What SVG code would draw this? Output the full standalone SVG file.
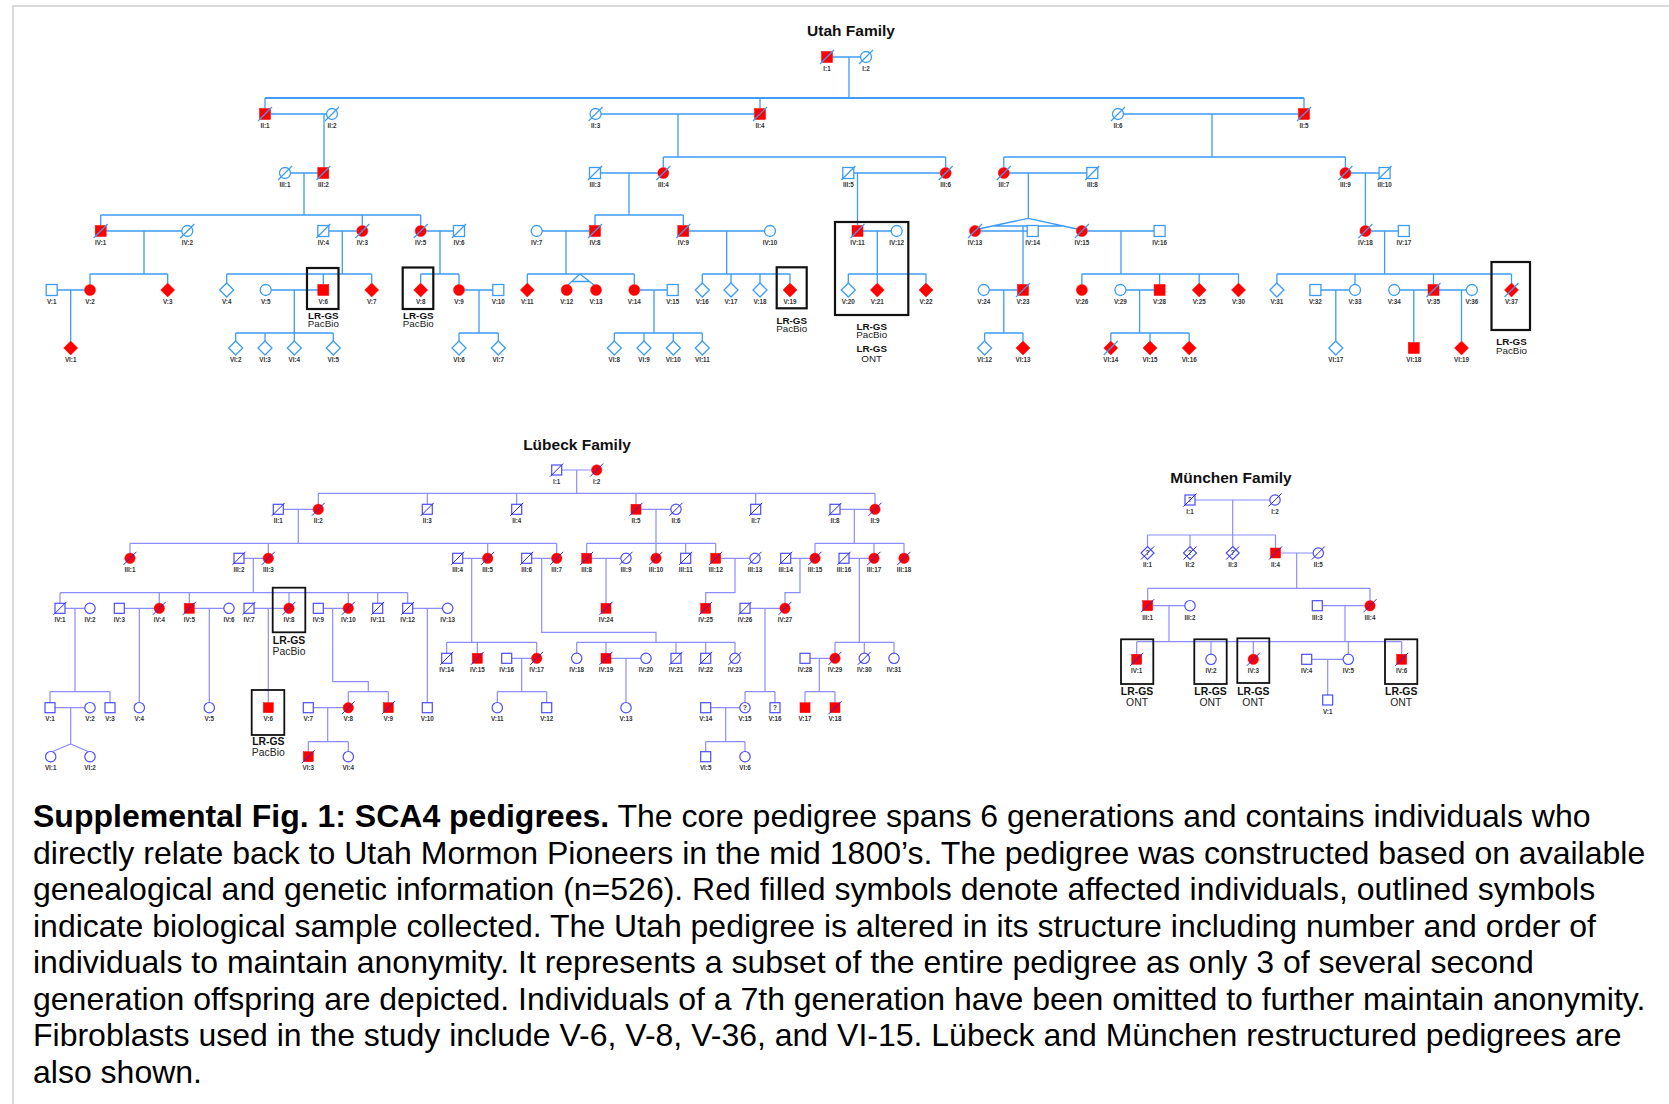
<svg xmlns="http://www.w3.org/2000/svg" xmlns:xlink="http://www.w3.org/1999/xlink" width="1669" height="1104" viewBox="0 0 1669 1104">
<style>
.uc{stroke:#3d9cf5;stroke-width:1.3;fill:none}
.lc{stroke:#8c8cff;stroke-width:1.2;fill:none}
.uo{fill:#fff;stroke:#3d9cf5;stroke-width:1.3}
.ua{fill:#f00;stroke:#f00;stroke-width:0.5}
.usl{stroke:#3d9cf5;stroke-width:1.2}
.lo{fill:#fff;stroke:#4c4cff;stroke-width:1.2}
.la{fill:#f00;stroke:#f00;stroke-width:0.5}
.lsl{stroke:#2a2ae0;stroke-width:1}
.lb{font-family:"Liberation Sans",Arial,sans-serif;font-weight:bold;font-size:6.3px;fill:#333;text-anchor:middle}
.q{font-family:"Liberation Sans",Arial,sans-serif;font-weight:bold;font-size:6.5px;fill:#333;text-anchor:middle}
.ttl{font-family:"Liberation Sans",Arial,sans-serif;font-weight:bold;font-size:15.5px;fill:#111;text-anchor:middle}
.bx{fill:none;stroke:#111;stroke-width:2.2}
.bx2{fill:none;stroke:#111;stroke-width:1.8}
.t1{font-family:"Liberation Sans",Arial,sans-serif;font-weight:bold;font-size:9.8px;fill:#111;text-anchor:middle}
.t2{font-family:"Liberation Sans",Arial,sans-serif;font-size:9.8px;fill:#222;text-anchor:middle}
.t1b{font-family:"Liberation Sans",Arial,sans-serif;font-weight:bold;font-size:10.4px;fill:#111;text-anchor:middle}
.t2b{font-family:"Liberation Sans",Arial,sans-serif;font-size:10.4px;fill:#222;text-anchor:middle}
.cap{font-family:"Liberation Sans",Arial,sans-serif;font-size:32px;fill:#000}
</style>
<defs>
<rect id="sq" x="-5.5" y="-5.5" width="11" height="11"/>
<circle id="ci" r="5.5"/>
<polygon id="di" points="0,-7 7,0 0,7 -7,0"/>
<line id="sl" x1="-7" y1="7" x2="7" y2="-7"/>
<rect id="sqs" x="-5" y="-5" width="10" height="10"/>
<circle id="cis" r="5.2"/>
<polygon id="dis" points="0,-6.5 6.5,0 0,6.5 -6.5,0"/>
<line id="sls" x1="-6.5" y1="6.5" x2="6.5" y2="-6.5"/>
</defs>
<rect width="1669" height="1104" fill="#fff"/>
<path d="M13,1104 V6 H1669" stroke="#d0d0d0" stroke-width="1.5" fill="none"/>

<g id="titles">
<text class="ttl" x="851" y="36">Utah Family</text>
<text class="ttl" x="577" y="450">Lübeck Family</text>
<text class="ttl" x="1231" y="483">München Family</text>
</g>

<g id="connectors">
<g id="utah-connectors">
<path class="uc" d="M832.5,57 H860.5 M849,57 V98"/>
<path class="uc" style="stroke-width:2.2" d="M265,98 H1304"/>
<path class="uc" d="M265,98 V108.5 M760,98 V108.5 M1304,98 V108.5"/>
<path class="uc" d="M270.5,114 H326.5 M324,114 V167.5"/>
<path class="uc" d="M601,114 H754.5 M678,114 V157 M663.3,157 H945.7 M663.3,157 V167.5 M945.7,157 V167.5"/>
<path class="uc" d="M1123.5,114 H1298.5 M1212,114 V157 M1003.8,157 H1345.4 M1003.8,157 V167.5 M1345.4,157 V167.5"/>
<path class="uc" d="M290.5,173 H317.8 M304,173 V215 M100.7,215 H420.7 M100.7,215 V225.5 M362.3,215 V225.5 M420.7,215 V225.5"/>
<path class="uc" d="M600.5,173 H657.8 M629,173 V215 M595,215 H683.3 M595,215 V225.5 M683.3,215 V225.5"/>
<path class="uc" d="M853.8,173 H940.2 M857.5,173 V225.5"/>
<path class="uc" d="M1009.3,173 H1086.8 M1028.3,173 V218.3 M978.5,229 L1028.3,218.3 L1077,229 M994,226 H1063"/>
<path class="uc" d="M1350.9,173 H1379.1 M1365.4,173 V225.5"/>
<path class="uc" d="M106.2,231 H181.8 M144,231 V274 M90,274 H167.7 M90,274 V284.5 M167.7,274 V283"/>
<path class="uc" d="M57.2,290 H84.5 M70.7,290 V341"/>
<path class="uc" d="M328.8,231 H356.8 M342.3,231 V274 M226.7,274 H371.7 M226.7,274 V283 M323.3,274 V284.5 M371.7,274 V283"/>
<path class="uc" d="M271.2,290 H317.8 M294.3,290 V333 M235.7,333 H333.3 M235.7,333 V341 M265,333 V341 M294.3,333 V341 M333.3,333 V341"/>
<path class="uc" d="M426.2,231 H453.5 M440,231 V274 M420.7,274 H459 M420.7,274 V283 M459,274 V284.5"/>
<path class="uc" d="M464.5,290 H492.8 M479,290 V333 M459,333 H498.3 M459,333 V341 M498.3,333 V341"/>
<path class="uc" d="M542.2,231 H589.5 M566,231 V274 M527.3,274 H634.3 M527.3,274 V283 M634.3,274 V284.5 M580,274 L568,285 M580,274 L594,285 M571.8,281.5 H589.5"/>
<path class="uc" d="M639.8,290 H667.2 M654,290 V333 M614.3,333 H702.3 M614.3,333 V341 M644,333 V341 M673.3,333 V341 M702.3,333 V341"/>
<path class="uc" d="M688.8,231 H764.5 M726.7,231 V274 M702.3,274 H790 M702.3,274 V283 M731,274 V283 M760,274 V283 M790,274 V283"/>
<path class="uc" d="M863,231 H891.2 M877.3,231 V274 M848.3,274 H926 M848.3,274 V283 M877.3,274 V283 M926,274 V283"/>
<path class="uc" d="M980.5,231 H1027.2 M1023,226 V284.5"/>
<path class="uc" d="M989.3,290 H1017.5 M1003.8,290 V333 M984.6,333 H1023 M984.6,333 V341 M1023,333 V341"/>
<path class="uc" d="M1087.4,231 H1154.1 M1121,231 V274 M1081.9,274 H1238.5 M1081.9,274 V284.5 M1159.6,274 V284.5 M1199.2,274 V283 M1238.5,274 V283"/>
<path class="uc" d="M1125.9,290 H1154.1 M1139.6,290 V333 M1110.8,333 H1189.2 M1110.8,333 V341 M1150,333 V341 M1189.2,333 V341"/>
<path class="uc" d="M1370.9,231 H1398.3 M1384.6,231 V274 M1276.9,274 H1511.5 M1276.9,274 V283 M1355,274 V284.5 M1433.5,274 V284.5 M1511.5,274 V283"/>
<path class="uc" d="M1320.9,290 H1349.5 M1335.8,290 V341"/>
<path class="uc" d="M1399.7,290 H1428 M1413.8,290 V342.5"/>
<path class="uc" d="M1439,290 H1466.4 M1461.5,290 V341"/>
</g>
<g id="lubeck-connectors">
<path class="lc" d="M561.7,470 H591.5 M576.7,470 V493.3 M318.3,493.3 H875"/>
<path class="lc" d="M318.3,493.3 V504.1 M427.3,493.3 V504.3 M516.7,493.3 V504.3 M636,493.3 V504.3 M755.7,493.3 V504.3 M875,493.3 V504.1"/>
<path class="lc" d="M283.3,509.3 H313.1 M298.3,509.3 V543.3 M130,543.3 H556.7 M130,543.3 V553.1 M268.3,543.3 V553.1 M487.7,543.3 V553.1 M556.7,543.3 V553.1"/>
<path class="lc" d="M641,509.3 H670.8 M656,509.3 V553.1 M586.7,543.3 H715.7 M586.7,543.3 V553.3 M685.7,543.3 V553.3 M715.7,543.3 V553.3"/>
<path class="lc" d="M840,509.3 H869.8 M854.3,509.3 V543.3 M815,543.3 H904 M815,543.3 V553.1 M874,543.3 V553.1 M904,543.3 V553.1"/>
<path class="lc" d="M244,558.3 H263.1 M253.3,558.3 V592.7 M60,592.7 H407.7 M60,592.7 V603.3 M159.3,592.7 V603.1 M189.3,592.7 V603.3 M289,592.7 V603.1 M348.3,592.7 V603.1 M377.7,592.7 V603.3 M407.7,592.7 V603.3"/>
<path class="lc" d="M462.7,558.3 H482.5 M471.7,558.3 V642.3 M446.7,642.3 H536.7 M446.7,642.3 V653.3 M477.3,642.3 V653.3 M536.7,642.3 V653.1"/>
<path class="lc" d="M531.7,558.3 H551.5 M541.7,558.3 V632.3 H656 V642.3 M576.7,642.3 H735 M576.7,642.3 V653.1 M606,642.3 V653.3 M676,642.3 V653.3 M705.7,642.3 V653.3 M735,642.3 V653.1"/>
<path class="lc" d="M591.7,558.3 H620.8 M606,558.3 V603.3"/>
<path class="lc" d="M720.7,558.3 H749.8 M735,558.3 V592.7 H705.7 V603.3"/>
<path class="lc" d="M790.7,558.3 H809.8 M800,558.3 V592.7 H785 V603.1"/>
<path class="lc" d="M849,558.3 H868.8 M859.3,558.3 V642.3 M835,642.3 H894 M835,642.3 V653.1 M864.3,642.3 V653.1 M894,642.3 V653.1"/>
<path class="lc" d="M65,608.3 H84.8 M75,608.3 V691.7 M50,691.7 H110 M50,691.7 V702.7 M110,691.7 V702.7"/>
<path class="lc" d="M55,707.7 H84.8 M70.7,707.7 V744 M52,751.8 L70.7,744 L88.5,751.8"/>
<path class="lc" d="M124.3,608.3 H154.1 M139.3,608.3 V702.5"/>
<path class="lc" d="M194.3,608.3 H223.8 M209.3,608.3 V702.5"/>
<path class="lc" d="M254,608.3 H283.8 M268.3,608.3 V702.7"/>
<path class="lc" d="M323.3,608.3 H343.1 M332.7,608.3 V681.7 H368.3 V691.7 M348.3,691.7 H388.3 M348.3,691.7 V702.5 M388.3,691.7 V702.7"/>
<path class="lc" d="M313.3,707.7 H343.1 M327.7,707.7 V741.7 M308.3,741.7 H348.3 M308.3,741.7 V751.7 M348.3,741.7 V751.5"/>
<path class="lc" d="M412.7,608.3 H442.5 M427.3,608.3 V702.7"/>
<path class="lc" d="M511.7,658.3 H531.5 M521.7,658.3 V691.7 M497.3,691.7 H546.7 M497.3,691.7 V702.5 M546.7,691.7 V702.7"/>
<path class="lc" d="M611,658.3 H640.8 M626,658.3 V702.5"/>
<path class="lc" d="M750,608.3 H779.8 M765,608.3 V691.7 M745,691.7 H775 M745,691.7 V702.5 M775,691.7 V702.7"/>
<path class="lc" d="M810,658.3 H829.8 M819.3,658.3 V691.7 M805,691.7 H835 M805,691.7 V702.7 M835,691.7 V702.7"/>
<path class="lc" d="M710.7,707.7 H739.8 M725.7,707.7 V741.7 M705.7,741.7 H745 M705.7,741.7 V751.7 M745,741.7 V751.5"/>
</g>
<g id="munchen-connectors">
<path class="lc" d="M1195,500 H1269.8 M1232.7,500 V535 M1147.5,535 H1275.5 M1147.5,535 V546.5 M1190,535 V546.5 M1232.7,535 V546.5 M1275.5,535 V548"/>
<path class="lc" d="M1280.5,553 H1313.1 M1296.7,553 V588.3 M1147.7,588.3 H1370 M1147.7,588.3 V600.7 M1370,588.3 V600.5"/>
<path class="lc" d="M1152.7,605.7 H1184.8 M1169,605.7 V641.7 M1322.3,605.7 H1364.8 M1345,605.7 V641.7"/>
<path class="lc" d="M1136.7,641.7 H1401.7 M1136.7,641.7 V654.3 M1211,641.7 V654.1 M1253.3,641.7 V654.1 M1348.3,641.7 V654.1 M1401.7,641.7 V654.3"/>
<path class="lc" d="M1311.7,659.3 H1343.1 M1327.7,659.3 V695"/>
</g>
</g>

<g id="utah-nodes">
<g id="u-I-1" transform="translate(827,57)"><use href="#sq" class="ua"/><use href="#sl" class="usl"/><text class="lb" y="13.5">I:1</text></g>
<g id="u-I-2" transform="translate(866,57)"><use href="#ci" class="uo"/><use href="#sl" class="usl"/><text class="lb" y="13.5">I:2</text></g>
<g id="u-II-1" transform="translate(265,114)"><use href="#sq" class="ua"/><use href="#sl" class="usl"/><text class="lb" y="13.5">II:1</text></g>
<g id="u-II-2" transform="translate(332,114)"><use href="#ci" class="uo"/><use href="#sl" class="usl"/><text class="lb" y="13.5">II:2</text></g>
<g id="u-II-3" transform="translate(595.6,114)"><use href="#ci" class="uo"/><use href="#sl" class="usl"/><text class="lb" y="13.5">II:3</text></g>
<g id="u-II-4" transform="translate(760,114)"><use href="#sq" class="ua"/><use href="#sl" class="usl"/><text class="lb" y="13.5">II:4</text></g>
<g id="u-II-6" transform="translate(1118,114)"><use href="#ci" class="uo"/><use href="#sl" class="usl"/><text class="lb" y="13.5">II:6</text></g>
<g id="u-II-5" transform="translate(1304,114)"><use href="#sq" class="ua"/><use href="#sl" class="usl"/><text class="lb" y="13.5">II:5</text></g>

<g id="u-III-1" transform="translate(285,173)"><use href="#ci" class="uo"/><use href="#sl" class="usl"/><text class="lb" y="13.5">III:1</text></g>
<g id="u-III-2" transform="translate(323.3,173)"><use href="#sq" class="ua"/><use href="#sl" class="usl"/><text class="lb" y="13.5">III:2</text></g>
<g id="u-III-3" transform="translate(595,173)"><use href="#sq" class="uo"/><use href="#sl" class="usl"/><text class="lb" y="13.5">III:3</text></g>
<g id="u-III-4" transform="translate(663.3,173)"><use href="#ci" class="ua"/><use href="#sl" class="usl"/><text class="lb" y="13.5">III:4</text></g>
<g id="u-III-5" transform="translate(848.3,173)"><use href="#sq" class="uo"/><use href="#sl" class="usl"/><text class="lb" y="13.5">III:5</text></g>
<g id="u-III-6" transform="translate(945.7,173)"><use href="#ci" class="ua"/><use href="#sl" class="usl"/><text class="lb" y="13.5">III:6</text></g>
<g id="u-III-7" transform="translate(1003.8,173)"><use href="#ci" class="ua"/><use href="#sl" class="usl"/><text class="lb" y="13.5">III:7</text></g>
<g id="u-III-8" transform="translate(1092.3,173)"><use href="#sq" class="uo"/><use href="#sl" class="usl"/><text class="lb" y="13.5">III:8</text></g>
<g id="u-III-9" transform="translate(1345.4,173)"><use href="#ci" class="ua"/><use href="#sl" class="usl"/><text class="lb" y="13.5">III:9</text></g>
<g id="u-III-10" transform="translate(1384.6,173)"><use href="#sq" class="uo"/><use href="#sl" class="usl"/><text class="lb" y="13.5">III:10</text></g>

<g id="u-IV-1" transform="translate(100.7,231)"><use href="#sq" class="ua"/><use href="#sl" class="usl"/><text class="lb" y="13.5">IV:1</text></g>
<g id="u-IV-2" transform="translate(187.3,231)"><use href="#ci" class="uo"/><use href="#sl" class="usl"/><text class="lb" y="13.5">IV:2</text></g>
<g id="u-IV-4" transform="translate(323.3,231)"><use href="#sq" class="uo"/><use href="#sl" class="usl"/><text class="lb" y="13.5">IV:4</text></g>
<g id="u-IV-3" transform="translate(362.3,231)"><use href="#ci" class="ua"/><use href="#sl" class="usl"/><text class="lb" y="13.5">IV:3</text></g>
<g id="u-IV-5" transform="translate(420.7,231)"><use href="#ci" class="ua"/><use href="#sl" class="usl"/><text class="lb" y="13.5">IV:5</text></g>
<g id="u-IV-6" transform="translate(459,231)"><use href="#sq" class="uo"/><use href="#sl" class="usl"/><text class="lb" y="13.5">IV:6</text></g>
<g id="u-IV-7" transform="translate(536.7,231)"><use href="#ci" class="uo"/><text class="lb" y="13.5">IV:7</text></g>
<g id="u-IV-8" transform="translate(595,231)"><use href="#sq" class="ua"/><use href="#sl" class="usl"/><text class="lb" y="13.5">IV:8</text></g>
<g id="u-IV-9" transform="translate(683.3,231)"><use href="#sq" class="ua"/><use href="#sl" class="usl"/><text class="lb" y="13.5">IV:9</text></g>
<g id="u-IV-10" transform="translate(770,231)"><use href="#ci" class="uo"/><text class="lb" y="13.5">IV:10</text></g>
<g id="u-IV-11" transform="translate(857.5,231)"><use href="#sq" class="ua"/><use href="#sl" class="usl"/><text class="lb" y="13.5">IV:11</text></g>
<g id="u-IV-12" transform="translate(896.7,231)"><use href="#ci" class="uo"/><text class="lb" y="13.5">IV:12</text></g>
<g id="u-IV-13" transform="translate(975,231)"><use href="#ci" class="ua"/><use href="#sl" class="usl"/><text class="lb" y="13.5">IV:13</text></g>
<g id="u-IV-14" transform="translate(1032.7,231)"><use href="#sq" class="uo"/><text class="lb" y="13.5">IV:14</text></g>
<g id="u-IV-15" transform="translate(1081.9,231)"><use href="#ci" class="ua"/><use href="#sl" class="usl"/><text class="lb" y="13.5">IV:15</text></g>
<g id="u-IV-16" transform="translate(1159.6,231)"><use href="#sq" class="uo"/><text class="lb" y="13.5">IV:16</text></g>
<g id="u-IV-18" transform="translate(1365.4,231)"><use href="#ci" class="ua"/><use href="#sl" class="usl"/><text class="lb" y="13.5">IV:18</text></g>
<g id="u-IV-17" transform="translate(1403.8,231)"><use href="#sq" class="uo"/><text class="lb" y="13.5">IV:17</text></g>

<g id="u-V-1" transform="translate(51.7,290)"><use href="#sq" class="uo"/><text class="lb" y="13.5">V:1</text></g>
<g id="u-V-2" transform="translate(90,290)"><use href="#ci" class="ua"/><text class="lb" y="13.5">V:2</text></g>
<g id="u-V-3" transform="translate(167.7,290)"><use href="#di" class="ua"/><text class="lb" y="13.5">V:3</text></g>
<g id="u-V-4" transform="translate(226.7,290)"><use href="#di" class="uo"/><text class="lb" y="13.5">V:4</text></g>
<g id="u-V-5" transform="translate(265.7,290)"><use href="#ci" class="uo"/><text class="lb" y="13.5">V:5</text></g>
<g id="u-V-6" transform="translate(323.3,290)"><use href="#sq" class="ua"/><text class="lb" y="13.5">V:6</text><rect class="bx" x="-16.3" y="-22" width="31.5" height="41"/><text class="t1" y="29">LR-GS</text><text class="t2" y="36.8">PacBio</text></g>
<g id="u-V-7" transform="translate(371.7,290)"><use href="#di" class="ua"/><text class="lb" y="13.5">V:7</text></g>
<g id="u-V-8" transform="translate(420.7,290)"><use href="#di" class="ua"/><text class="lb" y="13.5">V:8</text><rect class="bx" x="-18" y="-22.5" width="30.6" height="41.5"/><text class="t1" x="-2.4" y="29">LR-GS</text><text class="t2" x="-2.4" y="36.8">PacBio</text></g>
<g id="u-V-9" transform="translate(459,290)"><use href="#ci" class="ua"/><text class="lb" y="13.5">V:9</text></g>
<g id="u-V-10" transform="translate(498.3,290)"><use href="#sq" class="uo"/><text class="lb" y="13.5">V:10</text></g>
<g id="u-V-11" transform="translate(527.3,290)"><use href="#di" class="ua"/><text class="lb" y="13.5">V:11</text></g>
<g id="u-V-12" transform="translate(566.7,290)"><use href="#ci" class="ua"/><text class="lb" y="13.5">V:12</text></g>
<g id="u-V-13" transform="translate(596,290)"><use href="#ci" class="ua"/><text class="lb" y="13.5">V:13</text></g>
<g id="u-V-14" transform="translate(634.3,290)"><use href="#ci" class="ua"/><text class="lb" y="13.5">V:14</text></g>
<g id="u-V-15" transform="translate(672.7,290)"><use href="#sq" class="uo"/><text class="lb" y="13.5">V:15</text></g>
<g id="u-V-16" transform="translate(702.3,290)"><use href="#di" class="uo"/><text class="lb" y="13.5">V:16</text></g>
<g id="u-V-17" transform="translate(731,290)"><use href="#di" class="uo"/><text class="lb" y="13.5">V:17</text></g>
<g id="u-V-18" transform="translate(760,290)"><use href="#di" class="uo"/><text class="lb" y="13.5">V:18</text></g>
<g id="u-V-19" transform="translate(790,290)"><use href="#di" class="ua"/><text class="lb" y="13.5">V:19</text><rect class="bx" x="-13.3" y="-22.7" width="30" height="41"/><text class="t1" x="1.7" y="34">LR-GS</text><text class="t2" x="1.7" y="41.8">PacBio</text></g>
<g id="u-V-20" transform="translate(848.3,290)"><use href="#di" class="uo"/><text class="lb" y="13.5">V:20</text></g>
<g id="u-V-21" transform="translate(877.3,290)"><use href="#di" class="ua"/><text class="lb" y="13.5">V:21</text></g>
<g id="u-V-22" transform="translate(926,290)"><use href="#di" class="ua"/><text class="lb" y="13.5">V:22</text></g>
<g id="u-V-24" transform="translate(983.8,290)"><use href="#ci" class="uo"/><text class="lb" y="13.5">V:24</text></g>
<g id="u-V-23" transform="translate(1023,290)"><use href="#sq" class="ua"/><use href="#sl" class="usl"/><text class="lb" y="13.5">V:23</text></g>
<g id="u-V-26" transform="translate(1081.9,290)"><use href="#ci" class="ua"/><text class="lb" y="13.5">V:26</text></g>
<g id="u-V-29" transform="translate(1120.4,290)"><use href="#ci" class="uo"/><text class="lb" y="13.5">V:29</text></g>
<g id="u-V-28" transform="translate(1159.6,290)"><use href="#sq" class="ua"/><text class="lb" y="13.5">V:28</text></g>
<g id="u-V-25" transform="translate(1199.2,290)"><use href="#di" class="ua"/><text class="lb" y="13.5">V:25</text></g>
<g id="u-V-30" transform="translate(1238.5,290)"><use href="#di" class="ua"/><text class="lb" y="13.5">V:30</text></g>
<g id="u-V-31" transform="translate(1276.9,290)"><use href="#di" class="uo"/><text class="lb" y="13.5">V:31</text></g>
<g id="u-V-32" transform="translate(1315.4,290)"><use href="#sq" class="uo"/><text class="lb" y="13.5">V:32</text></g>
<g id="u-V-33" transform="translate(1355,290)"><use href="#ci" class="uo"/><text class="lb" y="13.5">V:33</text></g>
<g id="u-V-34" transform="translate(1394.2,290)"><use href="#ci" class="uo"/><text class="lb" y="13.5">V:34</text></g>
<g id="u-V-35" transform="translate(1433.5,290)"><use href="#sq" class="ua"/><use href="#sl" class="usl"/><text class="lb" y="13.5">V:35</text></g>
<g id="u-V-36" transform="translate(1471.9,290)"><use href="#ci" class="uo"/><text class="lb" y="13.5">V:36</text></g>
<g id="u-V-37" transform="translate(1511.5,290)"><use href="#di" class="ua"/><use href="#sl" class="usl"/><text class="lb" y="13.5">V:37</text><rect class="bx" x="-20" y="-28" width="38.5" height="68"/><text class="t1" y="55">LR-GS</text><text class="t2" y="63.5">PacBio</text></g>

<g id="u-VI-1" transform="translate(70.7,348)"><use href="#di" class="ua"/><text class="lb" y="13.5">VI:1</text></g>
<g id="u-VI-2" transform="translate(235.7,348)"><use href="#di" class="uo"/><text class="lb" y="13.5">VI:2</text></g>
<g id="u-VI-3" transform="translate(265,348)"><use href="#di" class="uo"/><text class="lb" y="13.5">VI:3</text></g>
<g id="u-VI-4" transform="translate(294.3,348)"><use href="#di" class="uo"/><text class="lb" y="13.5">VI:4</text></g>
<g id="u-VI-5" transform="translate(333.3,348)"><use href="#di" class="uo"/><text class="lb" y="13.5">VI:5</text></g>
<g id="u-VI-6" transform="translate(459,348)"><use href="#di" class="uo"/><text class="lb" y="13.5">VI:6</text></g>
<g id="u-VI-7" transform="translate(498.3,348)"><use href="#di" class="uo"/><text class="lb" y="13.5">VI:7</text></g>
<g id="u-VI-8" transform="translate(614.3,348)"><use href="#di" class="uo"/><text class="lb" y="13.5">VI:8</text></g>
<g id="u-VI-9" transform="translate(644,348)"><use href="#di" class="uo"/><text class="lb" y="13.5">VI:9</text></g>
<g id="u-VI-10" transform="translate(673.3,348)"><use href="#di" class="uo"/><text class="lb" y="13.5">VI:10</text></g>
<g id="u-VI-11" transform="translate(702.3,348)"><use href="#di" class="uo"/><text class="lb" y="13.5">VI:11</text></g>
<g id="u-VI-12" transform="translate(984.6,348)"><use href="#di" class="uo"/><text class="lb" y="13.5">VI:12</text></g>
<g id="u-VI-13" transform="translate(1023,348)"><use href="#di" class="ua"/><text class="lb" y="13.5">VI:13</text></g>
<g id="u-VI-14" transform="translate(1110.8,348)"><use href="#di" class="ua"/><use href="#sl" class="usl"/><text class="lb" y="13.5">VI:14</text></g>
<g id="u-VI-15" transform="translate(1150,348)"><use href="#di" class="ua"/><text class="lb" y="13.5">VI:15</text></g>
<g id="u-VI-16" transform="translate(1189.2,348)"><use href="#di" class="ua"/><text class="lb" y="13.5">VI:16</text></g>
<g id="u-VI-17" transform="translate(1335.8,348)"><use href="#di" class="uo"/><text class="lb" y="13.5">VI:17</text></g>
<g id="u-VI-18" transform="translate(1413.8,348)"><use href="#sq" class="ua"/><text class="lb" y="13.5">VI:18</text></g>
<g id="u-VI-19" transform="translate(1461.5,348)"><use href="#di" class="ua"/><text class="lb" y="13.5">VI:19</text></g>

<g id="u-IV-11-box"><rect class="bx" x="835" y="222" width="73.3" height="93"/><text class="t1" x="871.7" y="330">LR-GS</text><text class="t2" x="871.7" y="337.8">PacBio</text><text class="t1" x="871.7" y="351.7">LR-GS</text><text class="t2" x="871.7" y="361.7">ONT</text></g>
</g>

<g id="lubeck-nodes">
<g id="l-I-1" transform="translate(556.7,470)"><use href="#sqs" class="lo"/><use href="#sls" class="lsl"/><text class="lb" y="13.5">I:1</text></g>
<g id="l-I-2" transform="translate(596.7,470)"><use href="#cis" class="la"/><use href="#sls" class="lsl"/><text class="lb" y="13.5">I:2</text></g>
<g id="l-II-1" transform="translate(278.3,509.3)"><use href="#sqs" class="lo"/><use href="#sls" class="lsl"/><text class="lb" y="13.5">II:1</text></g>
<g id="l-II-2" transform="translate(318.3,509.3)"><use href="#cis" class="la"/><use href="#sls" class="lsl"/><text class="lb" y="13.5">II:2</text></g>
<g id="l-II-3" transform="translate(427.3,509.3)"><use href="#sqs" class="lo"/><use href="#sls" class="lsl"/><text class="lb" y="13.5">II:3</text></g>
<g id="l-II-4" transform="translate(516.7,509.3)"><use href="#sqs" class="lo"/><use href="#sls" class="lsl"/><text class="lb" y="13.5">II:4</text></g>
<g id="l-II-5" transform="translate(636,509.3)"><use href="#sqs" class="la"/><use href="#sls" class="lsl"/><text class="lb" y="13.5">II:5</text></g>
<g id="l-II-6" transform="translate(676,509.3)"><use href="#cis" class="lo"/><use href="#sls" class="lsl"/><text class="lb" y="13.5">II:6</text></g>
<g id="l-II-7" transform="translate(755.7,509.3)"><use href="#sqs" class="lo"/><use href="#sls" class="lsl"/><text class="lb" y="13.5">II:7</text></g>
<g id="l-II-8" transform="translate(835,509.3)"><use href="#sqs" class="lo"/><use href="#sls" class="lsl"/><text class="lb" y="13.5">II:8</text></g>
<g id="l-II-9" transform="translate(875,509.3)"><use href="#cis" class="la"/><use href="#sls" class="lsl"/><text class="lb" y="13.5">II:9</text></g>

<g id="l-III-1" transform="translate(130,558.3)"><use href="#cis" class="la"/><use href="#sls" class="lsl"/><text class="lb" y="13.5">III:1</text></g>
<g id="l-III-2" transform="translate(239,558.3)"><use href="#sqs" class="lo"/><use href="#sls" class="lsl"/><text class="lb" y="13.5">III:2</text></g>
<g id="l-III-3" transform="translate(268.3,558.3)"><use href="#cis" class="la"/><use href="#sls" class="lsl"/><text class="lb" y="13.5">III:3</text></g>
<g id="l-III-4" transform="translate(457.7,558.3)"><use href="#sqs" class="lo"/><use href="#sls" class="lsl"/><text class="lb" y="13.5">III:4</text></g>
<g id="l-III-5" transform="translate(487.7,558.3)"><use href="#cis" class="la"/><use href="#sls" class="lsl"/><text class="lb" y="13.5">III:5</text></g>
<g id="l-III-6" transform="translate(526.7,558.3)"><use href="#sqs" class="lo"/><use href="#sls" class="lsl"/><text class="lb" y="13.5">III:6</text></g>
<g id="l-III-7" transform="translate(556.7,558.3)"><use href="#cis" class="la"/><use href="#sls" class="lsl"/><text class="lb" y="13.5">III:7</text></g>
<g id="l-III-8" transform="translate(586.7,558.3)"><use href="#sqs" class="la"/><use href="#sls" class="lsl"/><text class="lb" y="13.5">III:8</text></g>
<g id="l-III-9" transform="translate(626,558.3)"><use href="#cis" class="lo"/><use href="#sls" class="lsl"/><text class="lb" y="13.5">III:9</text></g>
<g id="l-III-10" transform="translate(656,558.3)"><use href="#cis" class="la"/><use href="#sls" class="lsl"/><text class="lb" y="13.5">III:10</text></g>
<g id="l-III-11" transform="translate(685.7,558.3)"><use href="#sqs" class="lo"/><use href="#sls" class="lsl"/><text class="lb" y="13.5">III:11</text></g>
<g id="l-III-12" transform="translate(715.7,558.3)"><use href="#sqs" class="la"/><use href="#sls" class="lsl"/><text class="lb" y="13.5">III:12</text></g>
<g id="l-III-13" transform="translate(755,558.3)"><use href="#cis" class="lo"/><use href="#sls" class="lsl"/><text class="lb" y="13.5">III:13</text></g>
<g id="l-III-14" transform="translate(785.7,558.3)"><use href="#sqs" class="lo"/><use href="#sls" class="lsl"/><text class="lb" y="13.5">III:14</text></g>
<g id="l-III-15" transform="translate(815,558.3)"><use href="#cis" class="la"/><use href="#sls" class="lsl"/><text class="lb" y="13.5">III:15</text></g>
<g id="l-III-16" transform="translate(844,558.3)"><use href="#sqs" class="lo"/><use href="#sls" class="lsl"/><text class="lb" y="13.5">III:16</text></g>
<g id="l-III-17" transform="translate(874,558.3)"><use href="#cis" class="la"/><use href="#sls" class="lsl"/><text class="lb" y="13.5">III:17</text></g>
<g id="l-III-18" transform="translate(904,558.3)"><use href="#cis" class="la"/><use href="#sls" class="lsl"/><text class="lb" y="13.5">III:18</text></g>

<g id="l-IV-1" transform="translate(60,608.3)"><use href="#sqs" class="lo"/><use href="#sls" class="lsl"/><text class="lb" y="13.5">IV:1</text></g>
<g id="l-IV-2" transform="translate(90,608.3)"><use href="#cis" class="lo"/><text class="lb" y="13.5">IV:2</text></g>
<g id="l-IV-3" transform="translate(119.3,608.3)"><use href="#sqs" class="lo"/><text class="lb" y="13.5">IV:3</text></g>
<g id="l-IV-4" transform="translate(159.3,608.3)"><use href="#cis" class="la"/><use href="#sls" class="lsl"/><text class="lb" y="13.5">IV:4</text></g>
<g id="l-IV-5" transform="translate(189.3,608.3)"><use href="#sqs" class="la"/><use href="#sls" class="lsl"/><text class="lb" y="13.5">IV:5</text></g>
<g id="l-IV-6" transform="translate(229,608.3)"><use href="#cis" class="lo"/><text class="lb" y="13.5">IV:6</text></g>
<g id="l-IV-7" transform="translate(249,608.3)"><use href="#sqs" class="lo"/><use href="#sls" class="lsl"/><text class="lb" y="13.5">IV:7</text></g>
<g id="l-IV-8" transform="translate(289,608.3)"><use href="#cis" class="la"/><use href="#sls" class="lsl"/><text class="lb" y="13.5">IV:8</text><rect class="bx2" x="-16.3" y="-20.6" width="32.6" height="44.6"/><text class="t1b" y="36.2">LR-GS</text><text class="t2b" y="47.2">PacBio</text></g>
<g id="l-IV-9" transform="translate(318.3,608.3)"><use href="#sqs" class="lo"/><text class="lb" y="13.5">IV:9</text></g>
<g id="l-IV-10" transform="translate(348.3,608.3)"><use href="#cis" class="la"/><use href="#sls" class="lsl"/><text class="lb" y="13.5">IV:10</text></g>
<g id="l-IV-11" transform="translate(377.7,608.3)"><use href="#sqs" class="lo"/><use href="#sls" class="lsl"/><text class="lb" y="13.5">IV:11</text></g>
<g id="l-IV-12" transform="translate(407.7,608.3)"><use href="#sqs" class="lo"/><use href="#sls" class="lsl"/><text class="lb" y="13.5">IV:12</text></g>
<g id="l-IV-13" transform="translate(447.7,608.3)"><use href="#cis" class="lo"/><text class="lb" y="13.5">IV:13</text></g>
<g id="l-IV-24" transform="translate(606,608.3)"><use href="#sqs" class="la"/><use href="#sls" class="lsl"/><text class="lb" y="13.5">IV:24</text></g>
<g id="l-IV-25" transform="translate(705.7,608.3)"><use href="#sqs" class="la"/><use href="#sls" class="lsl"/><text class="lb" y="13.5">IV:25</text></g>
<g id="l-IV-26" transform="translate(745,608.3)"><use href="#sqs" class="lo"/><use href="#sls" class="lsl"/><text class="lb" y="13.5">IV:26</text></g>
<g id="l-IV-27" transform="translate(785,608.3)"><use href="#cis" class="la"/><use href="#sls" class="lsl"/><text class="lb" y="13.5">IV:27</text></g>
<g id="l-IV-14" transform="translate(446.7,658.3)"><use href="#sqs" class="lo"/><use href="#sls" class="lsl"/><text class="lb" y="13.5">IV:14</text></g>
<g id="l-IV-15" transform="translate(477.3,658.3)"><use href="#sqs" class="la"/><use href="#sls" class="lsl"/><text class="lb" y="13.5">IV:15</text></g>
<g id="l-IV-16" transform="translate(506.7,658.3)"><use href="#sqs" class="lo"/><text class="lb" y="13.5">IV:16</text></g>
<g id="l-IV-17" transform="translate(536.7,658.3)"><use href="#cis" class="la"/><use href="#sls" class="lsl"/><text class="lb" y="13.5">IV:17</text></g>
<g id="l-IV-18" transform="translate(576.7,658.3)"><use href="#cis" class="lo"/><text class="lb" y="13.5">IV:18</text></g>
<g id="l-IV-19" transform="translate(606,658.3)"><use href="#sqs" class="la"/><use href="#sls" class="lsl"/><text class="lb" y="13.5">IV:19</text></g>
<g id="l-IV-20" transform="translate(646,658.3)"><use href="#cis" class="lo"/><text class="lb" y="13.5">IV:20</text></g>
<g id="l-IV-21" transform="translate(676,658.3)"><use href="#sqs" class="lo"/><use href="#sls" class="lsl"/><text class="lb" y="13.5">IV:21</text></g>
<g id="l-IV-22" transform="translate(705.7,658.3)"><use href="#sqs" class="lo"/><use href="#sls" class="lsl"/><text class="lb" y="13.5">IV:22</text></g>
<g id="l-IV-23" transform="translate(735,658.3)"><use href="#cis" class="lo"/><use href="#sls" class="lsl"/><text class="lb" y="13.5">IV:23</text></g>
<g id="l-IV-28" transform="translate(805,658.3)"><use href="#sqs" class="lo"/><text class="lb" y="13.5">IV:28</text></g>
<g id="l-IV-29" transform="translate(835,658.3)"><use href="#cis" class="la"/><use href="#sls" class="lsl"/><text class="lb" y="13.5">IV:29</text></g>
<g id="l-IV-30" transform="translate(864.3,658.3)"><use href="#cis" class="lo"/><use href="#sls" class="lsl"/><text class="lb" y="13.5">IV:30</text></g>
<g id="l-IV-31" transform="translate(894,658.3)"><use href="#cis" class="lo"/><text class="lb" y="13.5">IV:31</text></g>

<g id="l-V-1" transform="translate(50,707.7)"><use href="#sqs" class="lo"/><text class="lb" y="13.5">V:1</text></g>
<g id="l-V-2" transform="translate(90,707.7)"><use href="#cis" class="lo"/><text class="lb" y="13.5">V:2</text></g>
<g id="l-V-3" transform="translate(110,707.7)"><use href="#sqs" class="lo"/><text class="lb" y="13.5">V:3</text></g>
<g id="l-V-4" transform="translate(139.3,707.7)"><use href="#cis" class="lo"/><text class="lb" y="13.5">V:4</text></g>
<g id="l-V-5" transform="translate(209.3,707.7)"><use href="#cis" class="lo"/><text class="lb" y="13.5">V:5</text></g>
<g id="l-V-6" transform="translate(268.3,707.7)"><use href="#sqs" class="la"/><text class="lb" y="13.5">V:6</text><rect class="bx2" x="-16.6" y="-17.7" width="32.6" height="45"/><text class="t1b" y="37.8">LR-GS</text><text class="t2b" y="48.8">PacBio</text></g>
<g id="l-V-7" transform="translate(308.3,707.7)"><use href="#sqs" class="lo"/><text class="lb" y="13.5">V:7</text></g>
<g id="l-V-8" transform="translate(348.3,707.7)"><use href="#cis" class="la"/><use href="#sls" class="lsl"/><text class="lb" y="13.5">V:8</text></g>
<g id="l-V-9" transform="translate(388.3,707.7)"><use href="#sqs" class="la"/><use href="#sls" class="lsl"/><text class="lb" y="13.5">V:9</text></g>
<g id="l-V-10" transform="translate(427.3,707.7)"><use href="#sqs" class="lo"/><text class="lb" y="13.5">V:10</text></g>
<g id="l-V-11" transform="translate(497.3,707.7)"><use href="#cis" class="lo"/><text class="lb" y="13.5">V:11</text></g>
<g id="l-V-12" transform="translate(546.7,707.7)"><use href="#sqs" class="lo"/><text class="lb" y="13.5">V:12</text></g>
<g id="l-V-13" transform="translate(626,707.7)"><use href="#cis" class="lo"/><text class="lb" y="13.5">V:13</text></g>
<g id="l-V-14" transform="translate(705.7,707.7)"><use href="#sqs" class="lo"/><text class="lb" y="13.5">V:14</text></g>
<g id="l-V-15" transform="translate(745,707.7)"><use href="#cis" class="lo"/><text class="q" y="2.3">?</text><text class="lb" y="13.5">V:15</text></g>
<g id="l-V-16" transform="translate(775,707.7)"><use href="#sqs" class="lo"/><text class="q" y="2.3">?</text><text class="lb" y="13.5">V:16</text></g>
<g id="l-V-17" transform="translate(805,707.7)"><use href="#sqs" class="la"/><text class="lb" y="13.5">V:17</text></g>
<g id="l-V-18" transform="translate(835,707.7)"><use href="#sqs" class="la"/><use href="#sls" class="lsl"/><text class="lb" y="13.5">V:18</text></g>

<g id="l-VI-1" transform="translate(50.7,756.7)"><use href="#cis" class="lo"/><text class="lb" y="13.5">VI:1</text></g>
<g id="l-VI-2" transform="translate(90,756.7)"><use href="#cis" class="lo"/><text class="lb" y="13.5">VI:2</text></g>
<g id="l-VI-3" transform="translate(308.3,756.7)"><use href="#sqs" class="la"/><use href="#sls" class="lsl"/><text class="lb" y="13.5">VI:3</text></g>
<g id="l-VI-4" transform="translate(348.3,756.7)"><use href="#cis" class="lo"/><text class="lb" y="13.5">VI:4</text></g>
<g id="l-VI-5" transform="translate(705.7,756.7)"><use href="#sqs" class="lo"/><text class="lb" y="13.5">VI:5</text></g>
<g id="l-VI-6" transform="translate(745,756.7)"><use href="#cis" class="lo"/><text class="lb" y="13.5">VI:6</text></g>
</g>

<g id="munchen-nodes">
<g id="m-I-1" transform="translate(1190,500)"><use href="#sqs" class="lo"/><text class="q" y="2.3">?</text><use href="#sls" class="lsl"/><text class="lb" y="14">I:1</text></g>
<g id="m-I-2" transform="translate(1275,500)"><use href="#cis" class="lo"/><use href="#sls" class="lsl"/><text class="lb" y="14">I:2</text></g>
<g id="m-II-1" transform="translate(1147.5,553)"><use href="#dis" class="lo"/><text class="q" y="2.3">?</text><use href="#sls" class="lsl"/><text class="lb" y="14">II:1</text></g>
<g id="m-II-2" transform="translate(1190,553)"><use href="#dis" class="lo"/><text class="q" y="2.3">?</text><use href="#sls" class="lsl"/><text class="lb" y="14">II:2</text></g>
<g id="m-II-3" transform="translate(1232.7,553)"><use href="#dis" class="lo"/><text class="q" y="2.3">?</text><use href="#sls" class="lsl"/><text class="lb" y="14">II:3</text></g>
<g id="m-II-4" transform="translate(1275.5,553)"><use href="#sqs" class="la"/><use href="#sls" class="lsl"/><text class="lb" y="14">II:4</text></g>
<g id="m-II-5" transform="translate(1318.3,553)"><use href="#cis" class="lo"/><use href="#sls" class="lsl"/><text class="lb" y="14">II:5</text></g>
<g id="m-III-1" transform="translate(1147.7,605.7)"><use href="#sqs" class="la"/><use href="#sls" class="lsl"/><text class="lb" y="14">III:1</text></g>
<g id="m-III-2" transform="translate(1190,605.7)"><use href="#cis" class="lo"/><text class="lb" y="14">III:2</text></g>
<g id="m-III-3" transform="translate(1317.3,605.7)"><use href="#sqs" class="lo"/><text class="lb" y="14">III:3</text></g>
<g id="m-III-4" transform="translate(1370,605.7)"><use href="#cis" class="la"/><use href="#sls" class="lsl"/><text class="lb" y="14">III:4</text></g>
<g id="m-IV-1" transform="translate(1136.7,659.3)"><use href="#sqs" class="la"/><use href="#sls" class="lsl"/><text class="lb" y="13.5">IV:1</text><rect class="bx2" x="-15.7" y="-20" width="32.3" height="44.7"/><text class="t1b" x="0.3" y="36.2">LR-GS</text><text class="t2b" x="0.3" y="47.2">ONT</text></g>
<g id="m-IV-2" transform="translate(1211,659.3)"><use href="#cis" class="lo"/><text class="lb" y="13.5">IV:2</text><rect class="bx2" x="-16.7" y="-20" width="32.4" height="44.7"/><text class="t1b" x="-0.5" y="36.2">LR-GS</text><text class="t2b" x="-0.5" y="47.2">ONT</text></g>
<g id="m-IV-3" transform="translate(1253.3,659.3)"><use href="#cis" class="la"/><use href="#sls" class="lsl"/><text class="lb" y="13.5">IV:3</text><rect class="bx2" x="-16" y="-21" width="32" height="44.7"/><text class="t1b" y="35.5">LR-GS</text><text class="t2b" y="46.5">ONT</text></g>
<g id="m-IV-4" transform="translate(1306.7,659.3)"><use href="#sqs" class="lo"/><text class="lb" y="13.5">IV:4</text></g>
<g id="m-IV-5" transform="translate(1348.3,659.3)"><use href="#cis" class="lo"/><text class="lb" y="13.5">IV:5</text></g>
<g id="m-IV-6" transform="translate(1401.7,659.3)"><use href="#sqs" class="la"/><use href="#sls" class="lsl"/><text class="lb" y="13.5">IV:6</text><rect class="bx2" x="-16.7" y="-20" width="32.3" height="44.7"/><text class="t1b" x="-0.5" y="36.2">LR-GS</text><text class="t2b" x="-0.5" y="47.2">ONT</text></g>
<g id="m-V-1" transform="translate(1327.7,700)"><use href="#sqs" class="lo"/><text class="lb" y="13.5">V:1</text></g>
</g>

<g id="caption">
<text class="cap" x="33" y="827"><tspan font-weight="bold">Supplemental Fig. 1: SCA4 pedigrees.</tspan> The core pedigree spans 6 generations and contains individuals who</text>
<text class="cap" x="33" y="863.5">directly relate back to Utah Mormon Pioneers in the mid 1800’s. The pedigree was constructed based on available</text>
<text class="cap" x="33" y="900">genealogical and genetic information (n=526). Red filled symbols denote affected individuals, outlined symbols</text>
<text class="cap" x="33" y="936.5">indicate biological sample collected. The Utah pedigree is altered in its structure including number and order of</text>
<text class="cap" x="33" y="973">individuals to maintain anonymity. It represents a subset of the entire pedigree as only 3 of several second</text>
<text class="cap" x="33" y="1009.5">generation offspring are depicted. Individuals of a 7th generation have been omitted to further maintain anonymity.</text>
<text class="cap" x="33" y="1046">Fibroblasts used in the study include V-6, V-8, V-36, and VI-15. Lübeck and München restructured pedigrees are</text>
<text class="cap" x="33" y="1082.5">also shown.</text>
</g>
</svg>
